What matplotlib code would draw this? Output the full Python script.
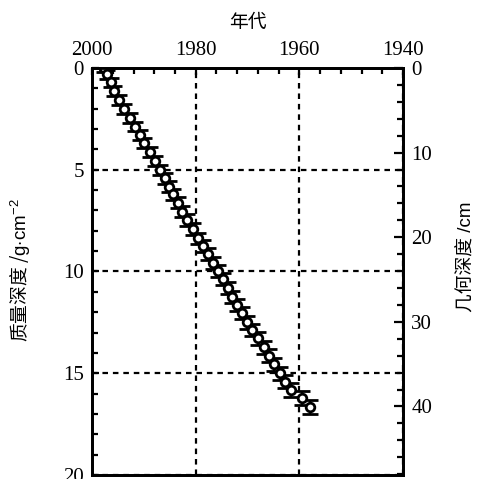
import matplotlib
matplotlib.use("Agg")
import matplotlib.pyplot as plt
from matplotlib.ticker import MultipleLocator

# dated layers: year vs mass depth (g/cm2)
years = [1997.6, 1997.1, 1996.4, 1995.8, 1994.8, 1993.9, 1992.7, 1991.8, 1990.7, 1989.9,
         1988.9, 1987.9, 1986.8, 1985.9, 1985.1, 1984.3, 1983.5, 1982.6, 1981.6, 1980.6,
         1979.5, 1978.5, 1977.6, 1976.6, 1975.7, 1974.7, 1973.7, 1972.9, 1972.0, 1971.0,
         1970.1, 1969.1, 1968.0, 1966.8, 1965.8, 1964.8, 1963.7, 1962.7, 1961.7, 1959.4,
         1957.9]
mass_depth = [0.0, 0.31, 0.70, 1.13, 1.57, 2.01, 2.47, 2.88, 3.29, 3.70,
              4.14, 4.57, 5.01, 5.42, 5.83, 6.20, 6.62, 7.06, 7.47, 7.91,
              8.37, 8.75, 9.14, 9.57, 9.98, 10.38, 10.83, 11.24, 11.65, 12.05,
              12.50, 12.87, 13.28, 13.73, 14.14, 14.56, 15.00, 15.41, 15.82, 16.23,
              16.67]
depth_err = [0.22, 0.22, 0.22, 0.23, 0.23, 0.23, 0.24, 0.24, 0.24, 0.25,
             0.25, 0.25, 0.26, 0.26, 0.26, 0.27, 0.27, 0.27, 0.28, 0.28,
             0.28, 0.28, 0.29, 0.29, 0.29, 0.29, 0.30, 0.30, 0.30, 0.30,
             0.31, 0.31, 0.31, 0.31, 0.32, 0.32, 0.32, 0.33, 0.33, 0.34,
             0.35]

year_ticks = [2000, 1980, 1960, 1940]
mass_ticks = [0, 5, 10, 15, 20]
geo_ticks = [0, 10, 20, 30, 40]

plt.rcParams["mathtext.fontset"] = "custom"
plt.rcParams["mathtext.rm"] = "Liberation Sans"
plt.rcParams["mathtext.it"] = "Liberation Sans"

cjk = ["Noto Sans CJK SC", "DejaVu Sans"]
mixed = ["Liberation Sans", "Noto Sans CJK SC", "DejaVu Sans"]
serif = "Liberation Serif"

fig = plt.figure(figsize=(4.82, 4.79), dpi=100)
ax = fig.add_axes([0.191, 0.0084, 0.645, 0.8497])

ax.errorbar(years, mass_depth, yerr=depth_err, fmt="o", ms=6.2, mfc="white",
            mec="black", mew=2.0, ecolor="black", elinewidth=1.6,
            capsize=5.5, capthick=2.0, zorder=3)

ax.set_xlim(2000, 1940)
ax.set_ylim(20, 0)
ax.xaxis.tick_top()
ax.xaxis.set_label_position("top")
ax.set_xticks(year_ticks)
ax.xaxis.set_minor_locator(MultipleLocator(4))
ax.set_yticks(mass_ticks)
ax.yaxis.set_minor_locator(MultipleLocator(1))
ax.tick_params(which="both", direction="in", top=True, bottom=False,
               left=True, right=False, width=1.6, labelsize=15, pad=6)
ax.tick_params(which="major", length=5)
ax.tick_params(which="minor", length=4.5)
for lab in ax.get_xticklabels() + ax.get_yticklabels():
    lab.set_fontfamily(serif)
ax.grid(True, which="major", color="black", lw=1.6, ls=(0, (2.5, 2.2)))
for sp in ax.spines.values():
    sp.set_linewidth(2)

ax.set_xlabel("年代", family=cjk, fontsize=13.5, labelpad=9)
ax.set_ylabel(r"质量深度 /$\mathrm{g{\cdot}cm^{-2}}$", family=cjk, fontsize=13.5)
ax.yaxis.set_label_coords(-0.19, 0.504)

ax2 = ax.twinx()
ax2.set_ylim(48.1, 0)
ax2.set_yticks(geo_ticks)
ax2.yaxis.set_minor_locator(MultipleLocator(2))
ax2.tick_params(which="both", direction="in", width=1.6, labelsize=15, pad=6)
ax2.tick_params(which="major", length=6.5)
ax2.tick_params(which="minor", length=4.5)
for lab in ax2.get_yticklabels():
    lab.set_fontfamily(serif)
for sp in ax2.spines.values():
    sp.set_linewidth(2)
ax2.set_ylabel("几何深度 /cm", family=mixed, fontsize=13.5)
ax2.yaxis.set_label_coords(1.177, 0.536)

fig.savefig("out.png", dpi=100)
